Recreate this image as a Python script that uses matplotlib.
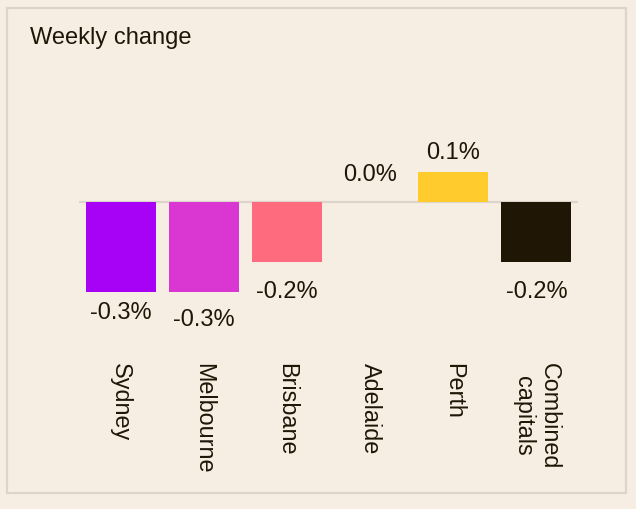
import matplotlib.pyplot as plt
from matplotlib.patches import Rectangle

plt.rcParams['font.family'] = ['Liberation Sans', 'DejaVu Sans']

cities = ['Sydney', 'Melbourne', 'Brisbane', 'Adelaide', 'Perth', 'Combined\ncapitals']
weekly_change = [-0.3, -0.3, -0.2, 0.0, 0.1, -0.2]
bar_colors = ['#A702F6', '#DA37D2', '#FF6B7E', '#F6EEE3', '#FFCB2D', '#1F1606']

bg = '#F6EEE3'
ink = '#1F1606'
rule = '#DDD5CB'

fig = plt.figure(figsize=(6.36, 5.09), dpi=100, facecolor=bg)
ax = fig.add_axes([79 / 636, 1 - 352 / 509, 499 / 636, 210 / 509])
ax.set_facecolor(bg)

x = range(len(cities))
ax.axhline(0, color=rule, lw=1.6, zorder=1)
ax.bar(x, weekly_change, width=0.843, color=bar_colors, zorder=2)

# gap (px) between bar end and label centre, negative = above
label_gap = [21, 28, 30, -27, -19, 30]
for i, v in enumerate(weekly_change):
    ax.annotate(f'{v:.1f}%', (i, v), xytext=(0, -label_gap[i] * 0.72),
                textcoords='offset points', ha='center', va='center',
                fontsize=17, color=ink)

ax.set_xlim(-0.5, 5.5)
ax.set_ylim(-0.5, 0.2)
ax.set_yticks([])
ax.set_xticks(list(x))
ax.set_xticklabels(cities, rotation=-90, va='top', ha='center',
                   multialignment='center', fontsize=16.8, color=ink,
                   linespacing=1.15)
ax.tick_params(axis='x', length=0, pad=8)
for s in ax.spines.values():
    s.set_visible(False)

fig.text(30 / 636, 1 - 44 / 509, 'Weekly change', fontsize=17, color=ink,
         ha='left', va='baseline')

fig.patches.append(Rectangle((7 / 636, 1 - 493 / 509), 619 / 636, 485 / 509,
                             transform=fig.transFigure, fill=False,
                             edgecolor=rule, lw=1.6))

fig.savefig('out.png', dpi=100, facecolor=bg)
